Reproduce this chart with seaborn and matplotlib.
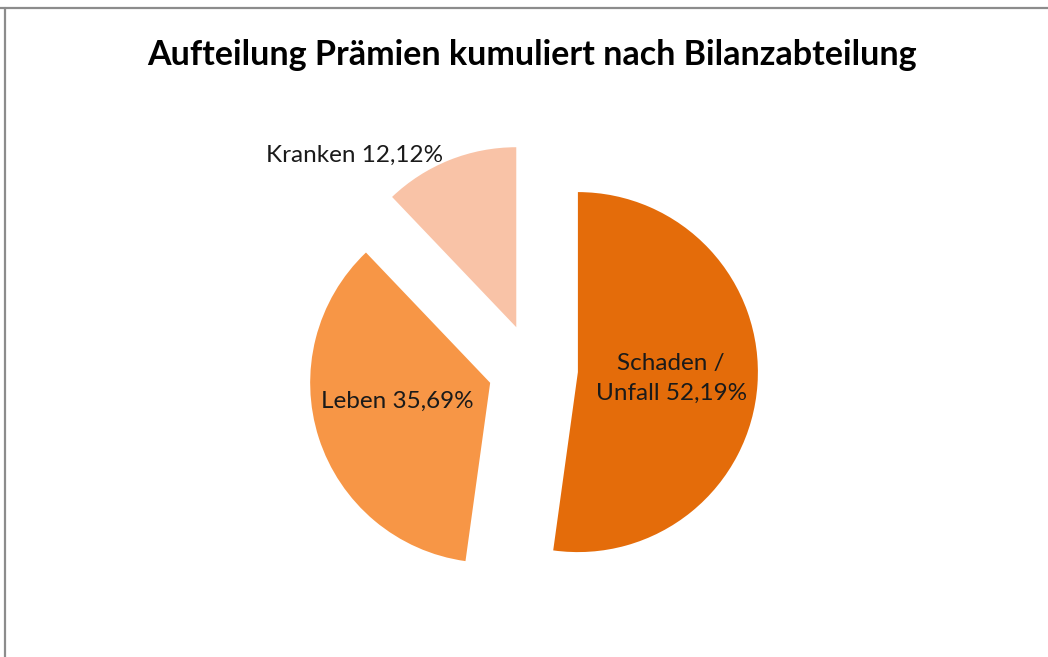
import matplotlib
matplotlib.use("Agg")
import matplotlib.pyplot as plt
from matplotlib.lines import Line2D
import seaborn as sns

# data
categories = ["Schaden /\nUnfall", "Leben", "Kranken"]
shares = [52.19, 35.69, 12.12]
colors = ["#E46C0A", "#F79646", "#F9C3A7"]
title = "Aufteilung Prämien kumuliert nach Bilanzabteilung"

W, H = 1048, 657
sns.set_theme(style="white")
plt.rcParams['font.family'] = ['Lato', 'DejaVu Sans']

fig = plt.figure(figsize=(W / 100, H / 100), dpi=100)
ax = fig.add_axes([0, 0, 1, 1])

labels = [f"{c} {str(v).replace('.', ',')}%" for c, v in zip(categories, shares)]

wedges, texts = ax.pie(
    shares,
    colors=colors,
    startangle=90,
    counterclock=False,
    radius=180,
    center=(533, H - 369),
    explode=[45] * len(shares),
    labels=labels,
    labeldistance=0.52,
    wedgeprops=dict(linewidth=0),
    textprops=dict(fontsize=17.5, color="#1a1a1a"),
    frame=True,
)
ax.set_xlim(0, W)
ax.set_ylim(0, H)
ax.set_aspect('equal')
ax.axis('off')

for t in texts:
    t.set_ha('center')
    t.set_va('center')
    t.set_multialignment('center')
    t.set_linespacing(1.5)

# label placement as in the reference
texts[1].set_position((397, H - 401))
texts[2].set_position((355, H - 155))

fig.text(532 / W, 1 - 55 / H, title, ha='center', va='center',
         fontsize=24.5, fontweight='bold', color='black')

# frame lines (top and left)
fig.add_artist(Line2D([0, 1], [1 - 7.5 / H, 1 - 7.5 / H], color='#8c8c8c', lw=1.6))
fig.add_artist(Line2D([5 / W, 5 / W], [0, 1 - 7.5 / H], color='#8c8c8c', lw=1.6))

fig.savefig("out.png", dpi=100)
